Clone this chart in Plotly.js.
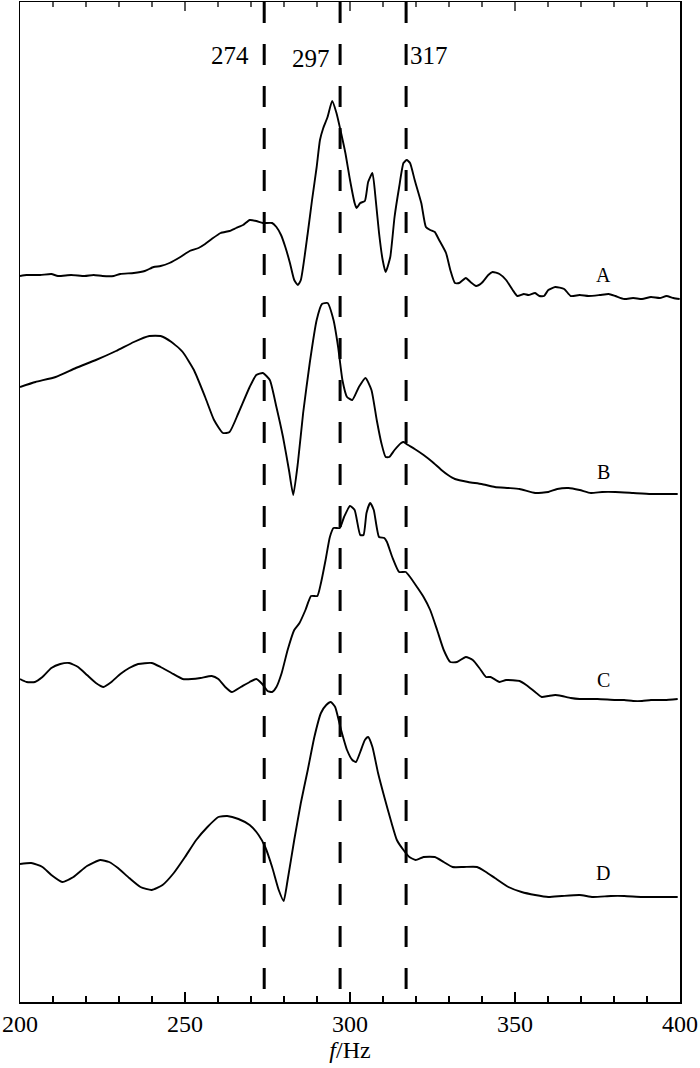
<!DOCTYPE html>
<html>
<head>
<meta charset="utf-8">
<script src="https://cdn.plot.ly/plotly-3.0.1.min.js"></script>
<style>
  html, body { margin: 0; padding: 0; background: #fff; }
  #chart { width: 700px; height: 1068px; }
</style>
</head>
<body>
<div id="chart"></div>
<script>
// frequency axis (Hz) and stacked amplitudes (arbitrary units, already offset per curve)
const fA = [200.0,202.0,206.1,209.5,211.5,215.5,219.6,222.3,225.0,228.4,230.4,234.5,237.8,240.5,242.6,245.3,248.6,251.4,254.1,256.1,258.1,260.8,263.5,265.5,267.6,269.6,271.6,273.6,276.4,277.7,279.1,280.4,281.8,283.1,284.2,285.1,287.2,288.5,289.9,290.9,291.9,293.2,294.6,295.9,297.3,298.6,300.0,301.4,302.0,303.1,304.5,305.5,306.8,307.8,308.8,309.9,310.8,312.2,313.5,314.9,316.2,317.2,318.2,319.6,321.6,323.0,324.3,325.7,327.0,329.1,330.4,331.8,333.1,335.1,336.5,338.2,339.9,341.9,343.2,345.3,347.3,349.3,350.7,352.7,354.1,356.1,357.4,358.8,360.1,362.2,364.9,366.9,369.6,372.3,375.7,378.4,380.4,383.1,385.8,388.5,391.2,393.9,395.9,398.0,399.9];
const yA = [724,725,725,726,724,725,724,725,724,724,726,727,729,733,734,737,743,749,752,756,761,767,769,772,775,780,779,777,777,773,765,753,737,720,715,720,767,800,833,860,872,883,899,887,867,847,820,797,792,797,799,818,827,800,767,740,728,743,783,813,837,840,837,820,797,773,770,768,760,747,730,717,717,722,718,714,717,725,728,726,720,710,704,706,705,707,704,704,710,713,711,704,705,704,705,706,704,701,702,701,703,702,704,702,701];

const fB = [200.0,204.7,210.8,216.9,223.0,229.1,234.5,239.2,242.6,245.9,249.3,252.7,256.1,258.8,261.5,263.5,266.2,269.6,271.6,273.6,275.7,277.7,279.7,281.5,282.8,284.2,285.8,287.8,289.9,291.5,293.2,295.0,296.4,297.7,299.1,300.7,302.7,304.7,306.5,308.1,309.5,310.8,311.9,313.5,315.5,316.2,317.6,319.6,322.3,325.0,327.7,329.7,331.8,335.8,339.9,343.9,348.0,351.4,356.1,360.1,362.8,366.2,369.6,373.0,376.4,380.4,385.8,391.2,395.3,399.3];
const yB = [613,618,623,632,640,649,658,664,664,658,648,630,603,580,567,568,587,613,625,627,620,593,563,530,505,537,587,637,680,696,697,680,653,620,603,600,613,622,610,580,557,543,543,550,557,558,555,551,545,538,530,525,521,518,516,513,512,511,507,508,511,512,510,507,508,508,507,506,506,506];

const fC = [200.0,202.0,204.5,206.8,209.5,212.2,214.9,217.6,220.3,223.0,225.3,227.7,230.4,233.1,235.8,239.9,242.6,245.9,249.3,252.0,254.7,258.1,260.1,262.2,264.2,266.9,269.6,271.6,273.4,275.0,276.4,277.7,279.3,281.1,283.1,284.7,286.5,288.2,290.1,291.2,292.6,293.9,295.0,296.9,298.2,300.0,301.4,303.1,304.1,305.0,306.1,307.2,308.8,310.4,311.2,312.8,314.9,316.9,318.2,320.3,322.3,324.3,326.4,328.4,330.4,332.4,335.1,337.2,339.2,341.2,342.6,345.3,347.3,351.4,353.4,356.1,358.1,360.1,362.2,364.2,366.9,369.6,375.0,380.4,383.1,385.8,388.5,391.2,395.3,399.3];
const yC = [321,318,318,323,332,336,337,333,325,317,313,318,326,332,336,337,333,327,321,321,322,324,321,313,308,313,318,321,316,309,308,313,327,350,370,377,390,404,404,417,440,463,472,472,483,494,490,465,465,487,497,490,463,462,458,443,428,428,423,413,403,390,370,350,338,338,343,340,332,323,323,318,320,319,315,308,303,304,305,304,302,301,301,300,300,299,299,300,300,301];

const fD = [200.0,203.4,206.8,209.5,212.8,216.2,220.3,224.3,227.0,229.7,233.1,236.5,239.9,243.2,246.6,250.0,253.4,256.8,260.1,262.8,266.2,269.6,272.3,274.3,276.4,278.4,279.9,281.1,283.1,285.1,287.2,289.2,291.2,292.8,294.2,295.5,297.3,299.1,300.7,301.8,303.1,304.5,305.5,306.8,308.5,310.4,312.6,314.2,316.2,318.0,319.9,322.3,325.7,328.4,331.1,334.5,338.5,341.2,343.9,348.0,352.0,356.1,360.1,364.2,369.6,373.6,379.1,383.1,388.5,393.9,399.3];
const yD = [136,137,133,125,118,123,134,140,138,132,122,113,110,115,127,143,160,173,183,184,181,175,165,153,133,110,99,120,160,197,230,263,287,295,298,293,270,250,240,238,248,260,263,253,227,203,177,160,150,143,140,143,143,138,133,133,133,128,122,113,108,105,103,104,105,103,104,104,103,103,103];

const curveNames = ['A', 'B', 'C', 'D'];
const labelF = [376.7, 376.7, 376.7, 376.7];
const labelY = [725, 528, 320, 127];

const refFreqs = [274, 297, 317];
const refText = ['274', '297', '317'];
const refTextF = [263.6, 288.2, 323.8];
const refTextY = [945, 942, 945];

// tick positions repeated on the top frame edge
const topMajor = [250, 300, 350];
const topMinor = [210, 220, 230, 240, 260, 270, 280, 290, 310, 320, 330, 340, 360, 370, 380, 390];

const serif = '"Liberation Serif", "Times New Roman", serif';

const series = [[fA, yA], [fB, yB], [fC, yC], [fD, yD]];
const traces = series.map((s, i) => ({
  x: s[0],
  y: s[1],
  mode: 'lines',
  name: curveNames[i],
  line: { color: '#000', width: 1.9, shape: 'spline', smoothing: 0.5 },
  hoverinfo: 'skip'
}));

const shapes = refFreqs.map(f => ({
  type: 'line', xref: 'x', yref: 'paper',
  x0: f, x1: f, y0: 1, y1: 0,
  line: { color: '#000', width: 3, dash: '21px,21px' }
}));

function topTick(f, len) {
  return {
    type: 'line', xref: 'x', yref: 'paper', ysizemode: 'pixel', yanchor: 1,
    x0: f, x1: f, y0: 0, y1: -len,
    line: { color: '#000', width: 1.3 }
  };
}
topMajor.forEach(f => shapes.push(topTick(f, 9)));
topMinor.forEach(f => shapes.push(topTick(f, 5)));

const annotations = curveNames.map((n, i) => ({
  x: labelF[i], y: labelY[i], text: n, showarrow: false,
  font: { family: serif, size: 20, color: '#000' }
})).concat(refText.map((t, i) => ({
  x: refTextF[i], y: refTextY[i], text: t, showarrow: false,
  font: { family: serif, size: 25, color: '#000' }
})));

const layout = {
  width: 700,
  height: 1068,
  margin: { l: 20, r: 20, t: 2, b: 66 },
  paper_bgcolor: '#fff',
  plot_bgcolor: '#fff',
  showlegend: false,
  font: { family: serif, color: '#000' },
  xaxis: {
    range: [200, 400],
    tickmode: 'linear',
    tick0: 200,
    dtick: 50,
    ticks: 'inside',
    ticklen: 10,
    tickwidth: 1.3,
    tickcolor: '#000',
    minor: { dtick: 10, ticks: 'inside', ticklen: 6, tickwidth: 1.3, tickcolor: '#000' },
    showline: true,
    linecolor: '#000',
    linewidth: 1.5,
    mirror: true,
    showgrid: false,
    zeroline: false,
    ticklabeloverflow: 'allow',
    tickfont: { family: serif, size: 24, color: '#000' },
    title: { text: '<i>f</i>/Hz', font: { family: serif, size: 24, color: '#000' }, standoff: 2 }
  },
  yaxis: {
    range: [-2, 998],
    showticklabels: false,
    ticks: '',
    showline: true,
    linecolor: '#000',
    linewidth: 1.5,
    mirror: true,
    showgrid: false,
    zeroline: false
  },
  shapes: shapes,
  annotations: annotations
};

Plotly.newPlot('chart', traces, layout, { displayModeBar: false, staticPlot: true });
</script>
</body>
</html>
